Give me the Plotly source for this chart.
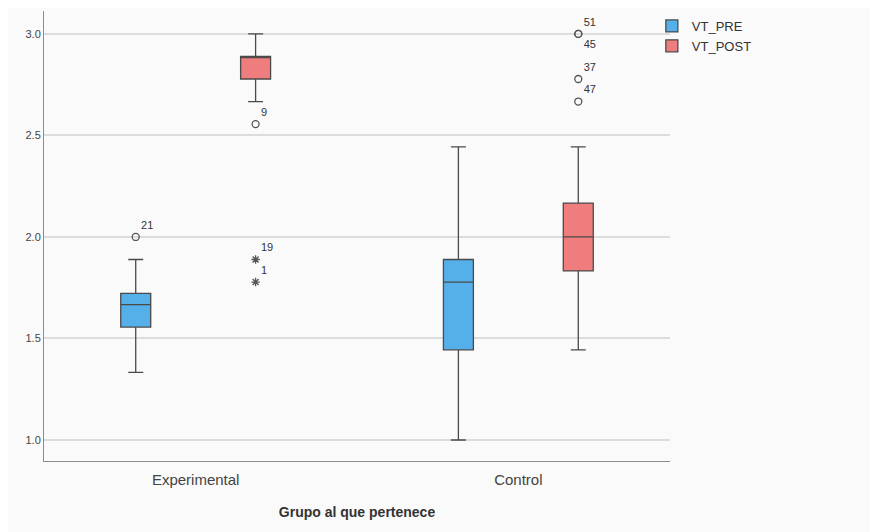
import plotly.graph_objects as go

# ---------------- data ----------------
groups = ["Experimental", "Control"]

pre_low = [1.333, 1.000]
pre_q1 = [1.556, 1.444]
pre_med = [1.667, 1.778]
pre_q3 = [1.722, 1.889]
pre_up = [1.889, 2.444]

post_low = [2.667, 1.444]
post_q1 = [2.778, 1.833]
post_med = [2.889, 2.000]
post_q3 = [2.889, 2.167]
post_up = [3.000, 2.444]

pre_out_group = ["Experimental"]
pre_out_val = [2.000]
pre_out_id = ["21"]

post_out_group = ["Experimental", "Control", "Control", "Control", "Control"]
post_out_val = [2.556, 3.000, 3.000, 2.778, 2.667]
post_out_id = ["9", "51", "45", "37", "47"]

post_ext_group = ["Experimental", "Experimental"]
post_ext_val = [1.889, 1.778]
post_ext_id = ["19", "1"]

# ---------------- style ----------------
BLUE = "#55B0EA"
RED = "#EF7D7D"
LINE = "#4A4A4A"
FONT = "Liberation Sans, Arial, sans-serif"


def label_positions(groups_, vals):
    seen = set()
    out = []
    for g, v in zip(groups_, vals):
        key = (g, v)
        out.append("bottom right" if key in seen else "top right")
        seen.add(key)
    return out


fig = go.Figure()

fig.add_trace(go.Box(
    name="VT_PRE", x=groups, q1=pre_q1, median=pre_med, q3=pre_q3,
    lowerfence=pre_low, upperfence=pre_up, boxpoints=False,
    fillcolor=BLUE, line=dict(color=LINE, width=1.3), whiskerwidth=0.5,
    offsetgroup="pre", hoverinfo="skip",
))
fig.add_trace(go.Box(
    name="VT_POST", x=groups, q1=post_q1, median=post_med, q3=post_q3,
    lowerfence=post_low, upperfence=post_up, boxpoints=False,
    fillcolor=RED, line=dict(color=LINE, width=1.3), whiskerwidth=0.5,
    offsetgroup="post", hoverinfo="skip",
))

common_text = dict(size=11, color="#333333", family=FONT)
mk = dict(size=7, color="#555555", line=dict(width=1.3, color="#555555"))

fig.add_trace(go.Scatter(
    x=pre_out_group, y=pre_out_val, text=pre_out_id, mode="markers+text",
    textposition=label_positions(pre_out_group, pre_out_val),
    marker=dict(symbol="circle-open", **mk),
    textfont=common_text, offsetgroup="pre", showlegend=False, cliponaxis=False,
    hoverinfo="skip",
))
fig.add_trace(go.Scatter(
    x=post_out_group, y=post_out_val, text=post_out_id, mode="markers+text",
    textposition=label_positions(post_out_group, post_out_val),
    marker=dict(symbol="circle-open", **mk),
    textfont=common_text, offsetgroup="post", showlegend=False, cliponaxis=False,
    hoverinfo="skip",
))
fig.add_trace(go.Scatter(
    x=post_ext_group, y=post_ext_val, text=post_ext_id, mode="markers+text",
    textposition=label_positions(post_ext_group, post_ext_val),
    marker=dict(symbol="asterisk-open", **mk),
    textfont=common_text, offsetgroup="post", showlegend=False, cliponaxis=False,
    hoverinfo="skip",
))

fig.update_layout(
    width=870, height=524,
    margin=dict(l=36, r=208, t=3, b=71),
    paper_bgcolor="#FAFAFA", plot_bgcolor="#FAFAFA",
    font=dict(family=FONT, color="#333333"),
    boxmode="group", boxgap=0.257, boxgroupgap=0.75,
    scattermode="group", scattergap=0.257,
    legend=dict(x=0.971, y=1.0, xanchor="left", yanchor="top",
                font=dict(size=13, color="#333333", family=FONT),
                bgcolor="rgba(0,0,0,0)", itemwidth=30, tracegroupgap=0),
    xaxis=dict(
        type="category", range=[-0.47, 1.47], showgrid=False,
        showline=True, linecolor="#8C8C8C", linewidth=1, ticks="",
        ticklabelstandoff=5,
        tickfont=dict(size=15, color="#444444"),
        title=dict(text="<b>Grupo al que pertenece</b>", font=dict(size=14, color="#333333"), standoff=20),
        zeroline=False,
    ),
    yaxis=dict(
        range=[0.8966, 3.113], tickvals=[1.0, 1.5, 2.0, 2.5, 3.0], tickformat=".1f",
        showgrid=True, gridcolor="#DCDCDC", gridwidth=1.5,
        showline=True, linecolor="#8C8C8C", linewidth=1, ticks="",
        tickfont=dict(size=11, color="#444444"), zeroline=False,
    ),
)

fig.write_html("out.html")
